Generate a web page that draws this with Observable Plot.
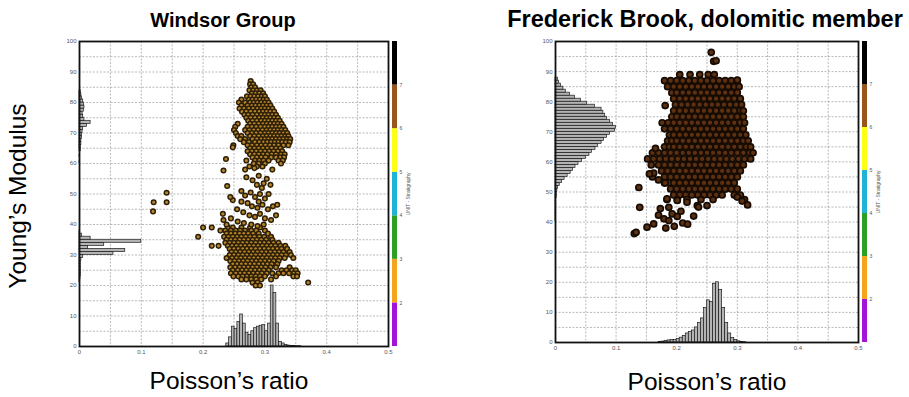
<!DOCTYPE html>
<html><head><meta charset="utf-8">
<script src="https://cdn.jsdelivr.net/npm/d3@7"></script>
<script src="https://cdn.jsdelivr.net/npm/@observablehq/plot@0.6"></script>
<style>
body{margin:0;background:#fff;}
#wrap{position:relative;width:909px;height:397px;overflow:hidden;background:#fff;font-family:"Liberation Sans",Arial,sans-serif;}
.abs{position:absolute;}
.title{font-weight:bold;color:#000;white-space:nowrap;transform:translateX(-50%);line-height:1;}
.axl{font-size:24.5px;color:#000;white-space:nowrap;line-height:20px;}
</style></head><body>
<div id="wrap">
  <div class="abs title" style="left:223px;top:10px;font-size:20px">Windsor Group</div>
  <div class="abs title" style="left:705px;top:8px;font-size:23.5px">Frederick Brook, dolomitic member</div>
  <div class="abs axl" style="left:18px;top:196px;transform:translate(-50%,-50%) rotate(-90deg)">Young’s Modulus</div>
  <div class="abs axl" style="left:229px;top:371px;transform:translateX(-50%)">Poisson’s ratio</div>
  <div class="abs axl" style="left:707px;top:372px;transform:translateX(-50%)">Poisson’s ratio</div>
  <div id="p1" class="abs" style="left:0;top:0"></div>
  <div id="c1" class="abs" style="left:388px;top:0"></div>
  <div id="p2" class="abs" style="left:480px;top:0"></div>
  <div id="c2" class="abs" style="left:858px;top:0"></div>
</div>
<script>
// ---- axes / ticks ----
const xTicks = [0, 0.1, 0.2, 0.3, 0.4, 0.5];
const xGrid = [0, 0.05, 0.1, 0.15, 0.2, 0.25, 0.3, 0.35, 0.4, 0.45, 0.5];
const yTicks = [0, 10, 20, 30, 40, 50, 60, 70, 80, 90, 100];
const yGrid = [0, 5, 10, 15, 20, 25, 30, 35, 40, 45, 50, 55, 60, 65, 70, 75, 80, 85, 90, 95, 100];
const unitCodes = [1, 2, 3, 4, 5, 6, 7];
const unitColors = ["#a313d8", "#f5a51c", "#2d9f24", "#1fb3d8", "#ffff14", "#98561e", "#000000"];
const unitTicks = [2, 3, 4, 5, 6, 7];

// ---- Windsor Group: Poisson's ratio histogram ----
const windsorPrBinStart = [0.2375, 0.242, 0.2465, 0.251, 0.2555, 0.26, 0.2645, 0.269, 0.2735, 0.278, 0.2825, 0.287, 0.2915, 0.296, 0.3005, 0.305, 0.3095, 0.314, 0.3185, 0.323, 0.3275, 0.332, 0.3365, 0.341, 0.3455, 0.35, 0.3545];
const windsorPrCount = [1, 3, 6.5, 5.8, 8, 10.5, 7.5, 4.5, 3.8, 5, 6, 6.5, 6.8, 7, 5, 7.5, 20, 17.5, 7.5, 1.5, 1, 0.5, 0.3, 0.2, 0.2, 0.1, 0.1];
const windsorPrBinWidth = 0.0045;
// ---- Windsor Group: Young's modulus histogram ----
const windsorYmBinStart = [21, 22, 23, 24, 25, 26, 27, 28, 29, 30, 31, 32, 33, 34, 35, 36, 37, 60, 62, 64, 65, 66, 67, 68, 69, 70, 71, 72, 73, 74, 75, 76, 77, 78, 79, 80, 81, 82, 83];
const windsorYmCount = [0.001, 0.0015, 0.002, 0.002, 0.002, 0.002, 0.002, 0.003, 0.006, 0.055, 0.074, 0.014, 0.04, 0.1, 0.018, 0.004, 0.001, 0.001, 0.001, 0.002, 0.002, 0.003, 0.003, 0.004, 0.004, 0.005, 0.006, 0.012, 0.018, 0.008, 0.006, 0.005, 0.007, 0.008, 0.007, 0.006, 0.004, 0.003, 0.002];

// ---- Frederick Brook: Poisson's ratio histogram ----
const fredPrBinStart = [0.17, 0.175, 0.18, 0.185, 0.19, 0.195, 0.2, 0.205, 0.21, 0.215, 0.22, 0.225, 0.23, 0.235, 0.24, 0.245, 0.25, 0.255, 0.26, 0.265, 0.27, 0.275, 0.28, 0.285, 0.29, 0.295, 0.3, 0.305, 0.31];
const fredPrCount = [0.2, 0.3, 0.5, 0.7, 0.8, 0.8, 1.2, 1.6, 2.2, 3, 3.5, 4, 5, 6.5, 8, 11.5, 14, 13.5, 19.5, 20, 17.5, 11.5, 6.5, 3, 1.5, 0.8, 0.4, 0.2, 0.1];
const fredPrBinWidth = 0.005;
// ---- Frederick Brook: Young's modulus histogram ----
const fredYmBinStart = [40, 41, 42, 43, 44, 45, 46, 47, 48, 49, 50, 51, 52, 53, 54, 55, 56, 57, 58, 59, 60, 61, 62, 63, 64, 65, 66, 67, 68, 69, 70, 71, 72, 73, 74, 75, 76, 77, 78, 79, 80, 81, 82, 83, 84, 85, 86, 87];
const fredYmCount = [0.001, 0.001, 0.001, 0.001, 0.001, 0.001, 0.001, 0.001, 0.002, 0.002, 0.003, 0.004, 0.007, 0.011, 0.015, 0.02, 0.025, 0.029, 0.033, 0.038, 0.044, 0.05, 0.056, 0.06, 0.066, 0.07, 0.076, 0.08, 0.085, 0.09, 0.098, 0.1, 0.095, 0.09, 0.085, 0.082, 0.079, 0.076, 0.065, 0.052, 0.042, 0.032, 0.024, 0.017, 0.013, 0.009, 0.006, 0.004];

// ---- Windsor Group points: rows of [Young's modulus, [Poisson's ratios]] ----
const windsorRows = [
  [87, [0.277]],
  [86, [0.276, 0.281]],
  [85, [0.278, 0.284]],
  [84, [0.275, 0.281, 0.287, 0.293]],
  [83, [0.279, 0.285, 0.291, 0.297]],
  [82, [0.271, 0.277, 0.283, 0.289, 0.295, 0.300]],
  [81, [0.262, 0.274, 0.280, 0.286, 0.292, 0.298, 0.303]],
  [80, [0.258, 0.268, 0.276, 0.282, 0.288, 0.294, 0.300, 0.306]],
  [79, [0.262, 0.272, 0.279, 0.285, 0.291, 0.297, 0.303, 0.309]],
  [78, [0.259, 0.266, 0.274, 0.281, 0.288, 0.294, 0.300, 0.306, 0.312]],
  [77, [0.263, 0.270, 0.277, 0.284, 0.291, 0.297, 0.303, 0.309, 0.315]],
  [76, [0.267, 0.273, 0.280, 0.287, 0.294, 0.300, 0.306, 0.312, 0.318]],
  [75, [0.270, 0.277, 0.284, 0.291, 0.297, 0.303, 0.309, 0.315, 0.321]],
  [74, [0.273, 0.280, 0.287, 0.294, 0.300, 0.306, 0.312, 0.318, 0.324]],
  [73, [0.256, 0.276, 0.283, 0.290, 0.297, 0.303, 0.309, 0.315, 0.321, 0.327]],
  [72, [0.252, 0.272, 0.279, 0.286, 0.293, 0.300, 0.306, 0.312, 0.318, 0.324, 0.330]],
  [71, [0.250, 0.268, 0.275, 0.282, 0.289, 0.296, 0.303, 0.309, 0.315, 0.321, 0.327, 0.333]],
  [70, [0.253, 0.272, 0.279, 0.286, 0.293, 0.300, 0.306, 0.312, 0.318, 0.324, 0.330, 0.336]],
  [69, [0.256, 0.262, 0.276, 0.283, 0.290, 0.297, 0.303, 0.309, 0.315, 0.321, 0.327, 0.333, 0.338]],
  [68, [0.260, 0.268, 0.280, 0.287, 0.294, 0.300, 0.306, 0.312, 0.318, 0.324, 0.330, 0.336, 0.341]],
  [67, [0.266, 0.274, 0.284, 0.291, 0.298, 0.304, 0.310, 0.316, 0.322, 0.328, 0.334, 0.340]],
  [66, [0.249, 0.272, 0.279, 0.287, 0.294, 0.301, 0.308, 0.315, 0.322, 0.330, 0.338]],
  [65, [0.276, 0.283, 0.290, 0.297, 0.304, 0.311, 0.318, 0.325]],
  [64, [0.272, 0.279, 0.286, 0.293, 0.300, 0.307, 0.314, 0.321, 0.328]],
  [63, [0.276, 0.283, 0.290, 0.297, 0.304, 0.311, 0.318, 0.326, 0.332]],
  [62, [0.280, 0.287, 0.294, 0.301, 0.310, 0.318, 0.325, 0.331]],
  [61, [0.284, 0.291, 0.298, 0.306, 0.322, 0.329]],
  [60, [0.282, 0.290, 0.300, 0.326]],
  [59, [0.275, 0.287, 0.296]],
  [39, [0.240, 0.248, 0.262, 0.276, 0.292]],
  [38, [0.236, 0.245, 0.253, 0.260, 0.268, 0.278, 0.286, 0.300]],
  [37, [0.238, 0.245, 0.252, 0.259, 0.266, 0.273, 0.281, 0.290, 0.305]],
  [36, [0.234, 0.241, 0.248, 0.255, 0.262, 0.269, 0.276, 0.283, 0.291, 0.299, 0.310]],
  [35, [0.238, 0.245, 0.252, 0.259, 0.266, 0.273, 0.280, 0.287, 0.294, 0.302, 0.312]],
  [34, [0.236, 0.243, 0.250, 0.257, 0.264, 0.271, 0.278, 0.285, 0.292, 0.299, 0.306, 0.314, 0.322]],
  [33, [0.240, 0.247, 0.254, 0.261, 0.268, 0.275, 0.282, 0.289, 0.296, 0.303, 0.310, 0.317, 0.325, 0.333]],
  [32, [0.243, 0.250, 0.257, 0.264, 0.271, 0.278, 0.285, 0.292, 0.299, 0.306, 0.313, 0.320, 0.327, 0.336]],
  [31, [0.246, 0.253, 0.260, 0.267, 0.274, 0.281, 0.288, 0.295, 0.302, 0.309, 0.316, 0.323, 0.330, 0.340]],
  [30, [0.243, 0.250, 0.257, 0.264, 0.271, 0.278, 0.285, 0.292, 0.299, 0.306, 0.313, 0.320, 0.327, 0.334, 0.342]],
  [29, [0.238, 0.247, 0.254, 0.261, 0.268, 0.275, 0.282, 0.289, 0.296, 0.303, 0.310, 0.317, 0.324, 0.332, 0.346]],
  [28, [0.244, 0.251, 0.258, 0.265, 0.272, 0.279, 0.286, 0.293, 0.300, 0.307, 0.314, 0.322]],
  [27, [0.248, 0.255, 0.262, 0.269, 0.276, 0.283, 0.290, 0.297, 0.304, 0.311, 0.320]],
  [26, [0.244, 0.252, 0.259, 0.266, 0.273, 0.280, 0.287, 0.294, 0.301, 0.309, 0.318, 0.340]],
  [25, [0.248, 0.256, 0.263, 0.270, 0.277, 0.284, 0.291, 0.298, 0.306, 0.327, 0.335, 0.344, 0.350]],
  [24, [0.245, 0.253, 0.260, 0.267, 0.274, 0.281, 0.288, 0.295, 0.303, 0.312, 0.322, 0.330, 0.339, 0.347, 0.353]],
  [23, [0.249, 0.257, 0.264, 0.271, 0.278, 0.285, 0.292, 0.300, 0.318, 0.346, 0.352]],
  [22, [0.262, 0.270, 0.278, 0.286, 0.294, 0.310]],
  [21, [0.280, 0.288, 0.370]],
  [20, [0.285, 0.292]]
];
// scattered Windsor points [Poisson's ratio, Young's modulus]
const windsorScatter = [[0.233,57.7],[0.239,52.6],[0.237,61.5],[0.248,65.3],[0.268,58],[0.283,58.5],[0.290,56],[0.303,55],[0.280,54.5],[0.287,53],[0.295,52],[0.270,55.5],[0.262,51],[0.277,50.5],[0.284,49],[0.292,50],[0.300,48.5],[0.306,50],[0.313,46],[0.320,46.5],[0.262,47.5],[0.272,47],[0.279,46],[0.288,45.5],[0.296,46.5],[0.305,45],[0.248,48],[0.255,45],[0.265,44],[0.275,43],[0.284,42.5],[0.292,43.5],[0.300,42],[0.310,41.5],[0.318,43],[0.245,42],[0.256,41],[0.266,40.5],[0.278,40],[0.288,39.5],[0.298,40],[0.238,40],[0.232,43.5],[0.268,49.5],[0.298,53.5],[0.309,53],[0.270,61],[0.312,58],[0.290,47.5],[0.244,49],[0.233,41.5],[0.228,38],[0.225,33],[0.214,33],[0.214,39],[0.200,39],[0.192,36],[0.120,47.3],[0.141,50.4],[0.141,47.3],[0.119,44.3]];

// ---- Frederick Brook points ----
const fredRows = [
  [89, [0.205, 0.222, 0.238, 0.252, 0.262]],
  [87, [0.180, 0.190, 0.200, 0.210, 0.220, 0.230, 0.240, 0.250, 0.260, 0.270, 0.280, 0.290, 0.300]],
  [85, [0.185, 0.195, 0.205, 0.215, 0.225, 0.235, 0.245, 0.255, 0.265, 0.275, 0.285, 0.295, 0.303]],
  [83, [0.192, 0.200, 0.210, 0.220, 0.230, 0.240, 0.250, 0.260, 0.270, 0.280, 0.290, 0.300]],
  [81, [0.195, 0.205, 0.215, 0.225, 0.235, 0.245, 0.255, 0.265, 0.275, 0.285, 0.295, 0.305]],
  [79, [0.198, 0.208, 0.218, 0.228, 0.238, 0.248, 0.258, 0.268, 0.278, 0.288, 0.298, 0.307]],
  [77, [0.195, 0.205, 0.215, 0.225, 0.235, 0.245, 0.255, 0.265, 0.275, 0.285, 0.295, 0.305, 0.310]],
  [75, [0.192, 0.200, 0.210, 0.220, 0.230, 0.240, 0.250, 0.260, 0.270, 0.280, 0.290, 0.300, 0.310]],
  [73, [0.176, 0.186, 0.195, 0.205, 0.215, 0.225, 0.235, 0.245, 0.255, 0.265, 0.275, 0.285, 0.295, 0.305, 0.312]],
  [71, [0.180, 0.190, 0.200, 0.210, 0.220, 0.230, 0.240, 0.250, 0.260, 0.270, 0.280, 0.290, 0.300, 0.310]],
  [69, [0.188, 0.195, 0.205, 0.215, 0.225, 0.235, 0.245, 0.255, 0.265, 0.275, 0.285, 0.295, 0.305, 0.314]],
  [67, [0.185, 0.192, 0.200, 0.210, 0.220, 0.230, 0.240, 0.250, 0.260, 0.270, 0.280, 0.290, 0.300, 0.310, 0.318]],
  [65, [0.180, 0.188, 0.195, 0.205, 0.215, 0.225, 0.235, 0.245, 0.255, 0.265, 0.275, 0.285, 0.295, 0.305, 0.315, 0.322]],
  [63, [0.160, 0.170, 0.180, 0.190, 0.200, 0.210, 0.220, 0.230, 0.240, 0.250, 0.260, 0.270, 0.280, 0.290, 0.300, 0.310, 0.320, 0.326]],
  [61, [0.152, 0.162, 0.172, 0.182, 0.192, 0.202, 0.212, 0.222, 0.232, 0.242, 0.252, 0.262, 0.272, 0.282, 0.292, 0.302, 0.312, 0.322]],
  [59, [0.158, 0.170, 0.180, 0.190, 0.200, 0.210, 0.220, 0.230, 0.240, 0.250, 0.260, 0.270, 0.280, 0.290, 0.300, 0.310]],
  [57, [0.175, 0.185, 0.195, 0.205, 0.215, 0.225, 0.235, 0.245, 0.255, 0.265, 0.275, 0.285, 0.295, 0.305]],
  [55, [0.160, 0.180, 0.190, 0.200, 0.210, 0.220, 0.230, 0.240, 0.250, 0.260, 0.270, 0.280, 0.290, 0.300]],
  [53, [0.180, 0.188, 0.195, 0.205, 0.215, 0.225, 0.235, 0.245, 0.255, 0.265, 0.275, 0.285, 0.295]],
  [51, [0.190, 0.200, 0.210, 0.220, 0.230, 0.240, 0.250, 0.260, 0.270, 0.280, 0.290, 0.300]],
  [49, [0.195, 0.205, 0.215, 0.225, 0.235, 0.245, 0.255, 0.265, 0.275, 0.295, 0.305]],
  [47.5, [0.184, 0.201, 0.217, 0.240, 0.260, 0.312]]
];
const fredScatter = [[0.257,96.4],[0.261,93.4],[0.265,93.6],[0.300,87.2],[0.1375,51.5],[0.139,44.9],[0.130,36.2],[0.133,36.6],[0.151,38.3],[0.162,39.4],[0.173,44.5],[0.170,42.3],[0.179,41.1],[0.187,40.5],[0.1925,42.7],[0.187,44.9],[0.201,41.9],[0.196,38.6],[0.207,43.6],[0.210,39.7],[0.182,38],[0.184,47.7],[0.201,47.2],[0.217,46.6],[0.234,45.5],[0.250,45.5],[0.218,39.3],[0.228,42],[0.236,45],[0.162,56.3],[0.170,54],[0.181,53],[0.280,51],[0.300,48.3],[0.317,45.7],[0.308,47],[0.155,56],[0.165,64.5],[0.181,78.7]];

// ---- build tables ----
const rowsToPoints = (rows, extra) =>
  rows.flatMap(([ym, prs]) => prs.map(pr => ({pr, ym}))).concat(extra.map(([pr, ym]) => ({pr, ym})));
const prHist = (starts, counts, w) => starts.map((lo, i) => ({lo, hi: lo + w, h: counts[i]}));
const ymHist = (starts, counts) => starts.map((lo, i) => ({lo, hi: lo + 1, v: counts[i]}));

const font = "Liberation Sans, Arial, sans-serif";

function panel(opts) {
  return Plot.plot({
    width: opts.width, height: 365,
    marginLeft: opts.ml, marginRight: 2, marginTop: 41, marginBottom: opts.mb,
    style: {fontSize: "6px", color: "#555", fontFamily: font, background: "transparent", overflow: "visible"},
    x: {domain: [0, 0.5], ticks: xTicks, tickFormat: d => String(d), tickSize: 0, tickPadding: 3, label: null},
    y: {domain: [0, 100], ticks: yTicks, tickFormat: d => String(d), tickSize: 0, tickPadding: 3, label: null},
    marks: [
      Plot.ruleX(xGrid, {stroke: "#8a8a8a", strokeDasharray: "2,1.5", strokeWidth: 0.6}),
      Plot.ruleY(yGrid, {stroke: "#8a8a8a", strokeDasharray: "2,1.5", strokeWidth: 0.6}),
      Plot.rect(opts.side, {x1: d => 0, x2: "v", y1: "lo", y2: "hi", fill: "#b4b4b4", stroke: "#1a1a1a", strokeWidth: 0.7}),
      Plot.rect(opts.hist, {x1: "lo", x2: "hi", y1: d => 0, y2: "h", fill: "#b4b4b4", stroke: "#1a1a1a", strokeWidth: 0.7}),
      Plot.dot(opts.pts, {x: "pr", y: "ym", r: opts.r, fill: opts.fill, stroke: opts.stroke, strokeWidth: opts.sw}),
      Plot.frame({stroke: "#111", strokeWidth: 1.8})
    ]
  });
}

function colorbar(width, mb) {
  return Plot.plot({
    width, height: 365, marginLeft: 4, marginRight: width - 9, marginTop: 41, marginBottom: mb,
    style: {fontSize: "5px", color: "#555", fontFamily: font, background: "transparent", overflow: "visible"},
    x: {domain: [0, 1], axis: null},
    y: {domain: [1, 8], axis: "right", ticks: unitTicks, tickFormat: d => String(d), tickSize: 0, tickPadding: 2,
        label: "UNIT - Stratigraphy", labelAnchor: "center", labelArrow: "none", labelOffset: 12},
    marks: [
      Plot.rect(unitCodes, {x1: d => 0, x2: d => 1, y1: d => d, y2: d => d + 1, fill: d => unitColors[d - 1]})
    ]
  });
}

document.getElementById("p1").append(panel({
  width: 390, ml: 79, mb: 19,
  side: ymHist(windsorYmBinStart, windsorYmCount),
  hist: prHist(windsorPrBinStart, windsorPrCount, windsorPrBinWidth),
  pts: rowsToPoints(windsorRows, windsorScatter),
  r: 2.3, fill: "#b8862a", stroke: "#2e2008", sw: 1.5
}));
document.getElementById("c1").append(colorbar(30, 19));
document.getElementById("p2").append(panel({
  width: 380, ml: 75, mb: 23,
  side: ymHist(fredYmBinStart, fredYmCount),
  hist: prHist(fredPrBinStart, fredPrCount, fredPrBinWidth),
  pts: rowsToPoints(fredRows, fredScatter),
  r: 3.0, fill: "#5c3010", stroke: "#170c04", sw: 1.7
}));
document.getElementById("c2").append(colorbar(51, 23));
</script>
</body></html>
